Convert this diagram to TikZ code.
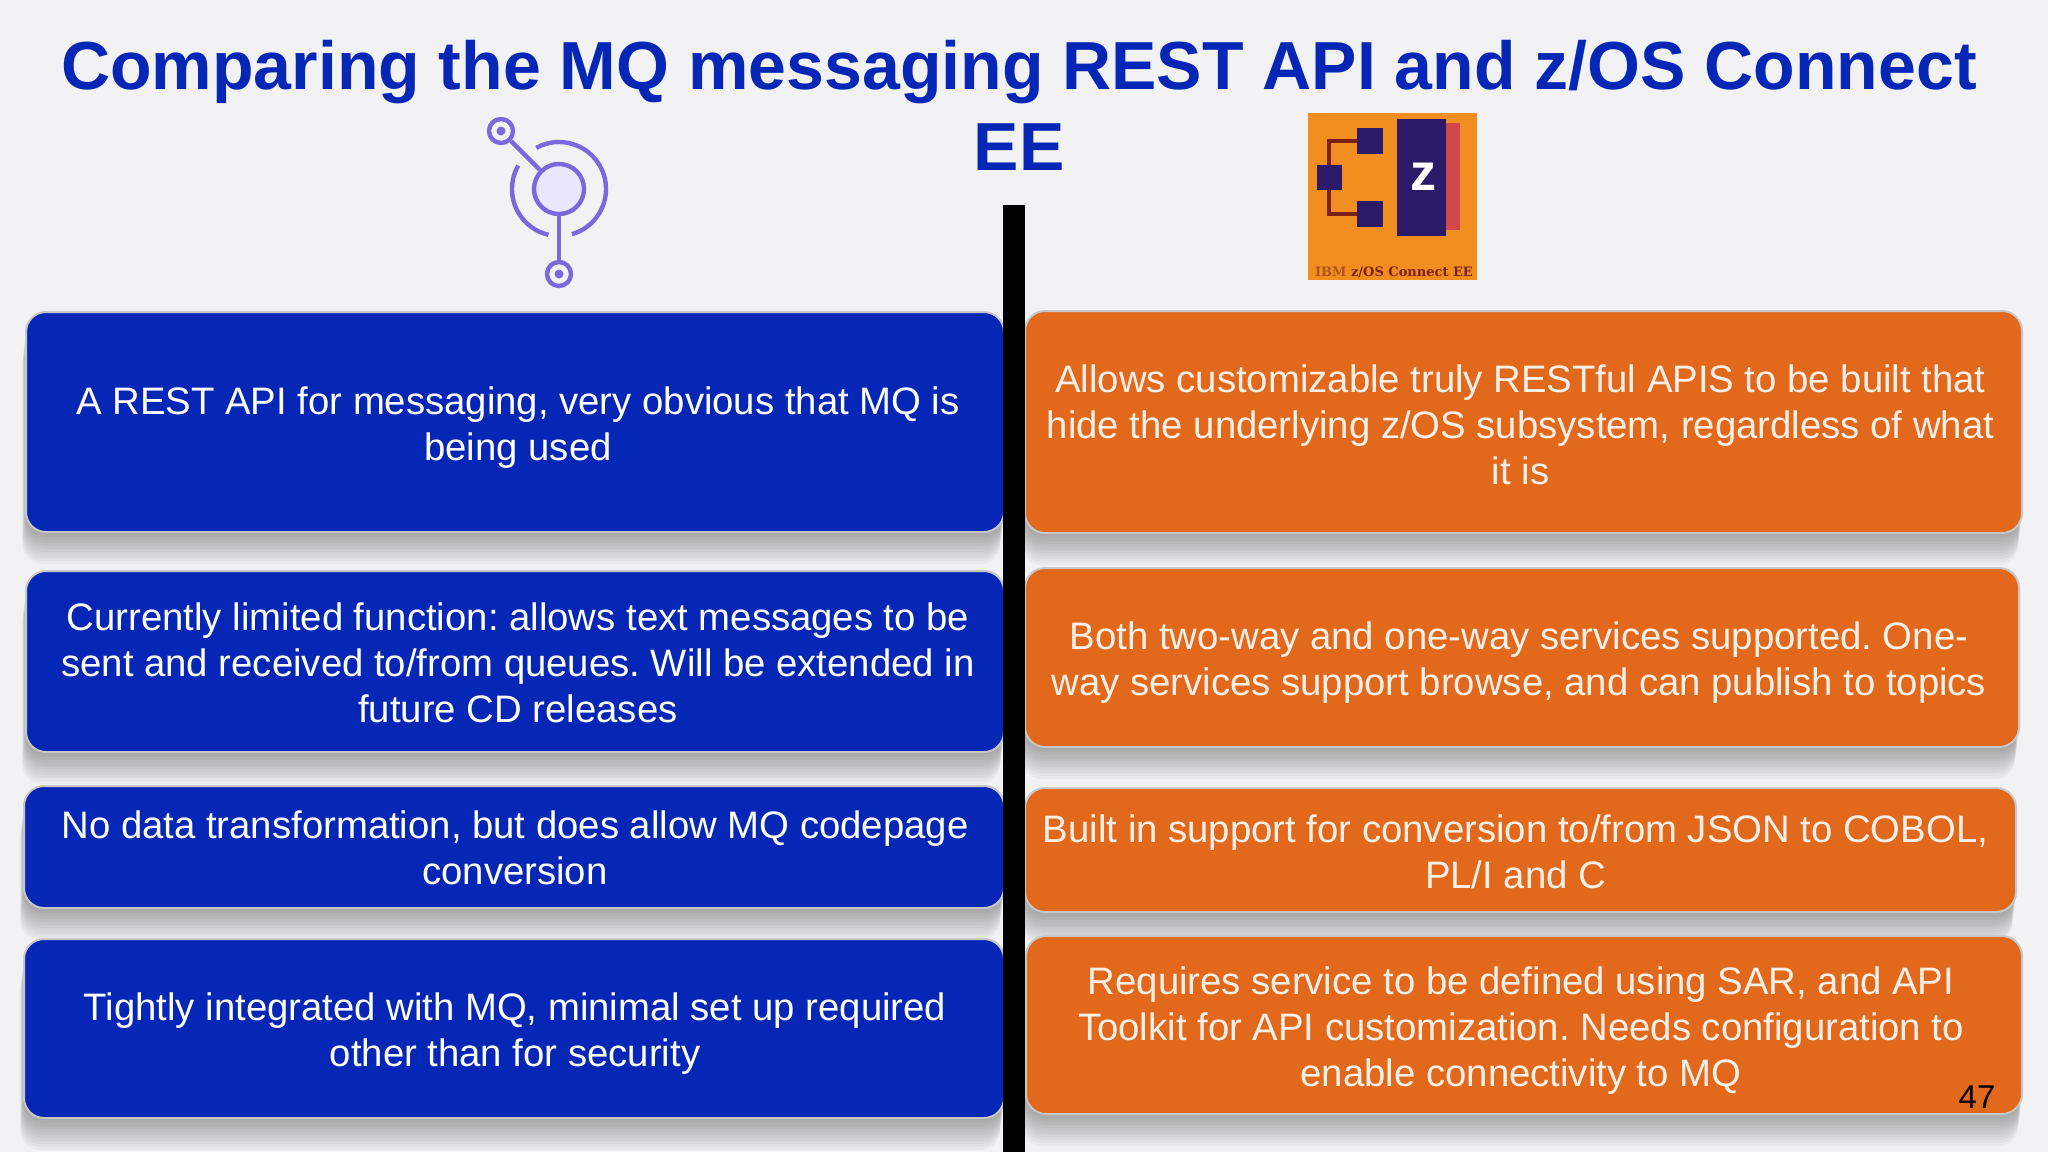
\documentclass[tikz,border=0pt]{standalone}
\usepackage{fontspec}
\setmainfont{Liberation Sans}
\newfontfamily\logofont{DejaVu Serif}
\usetikzlibrary{shadows}
\definecolor{slidebg}{HTML}{F2F2F4}
\definecolor{ibmblue}{HTML}{0627B6}
\definecolor{ibmorange}{HTML}{E2681B}
\definecolor{ringviolet}{HTML}{7B68DC}
\definecolor{ringfill}{HTML}{E9E7FB}
\definecolor{logoorange}{HTML}{F28E1F}
\definecolor{logonavy}{HTML}{2A1A68}
\definecolor{logored}{HTML}{D0484C}
\definecolor{logowire}{HTML}{7A2016}
\tikzset{
    shadowstep/.style={general shadow={fill=black, opacity=.032, shadow yshift=-#1pt, shadow xshift=-#1pt*0.12}},
    softshadow/.style={shadowstep=32, shadowstep=29, shadowstep=26, shadowstep=23, shadowstep=20,
        shadowstep=17, shadowstep=14, shadowstep=11, shadowstep=8, shadowstep=5, shadowstep=2},
    cardbox/.style={draw=white!78!black, line width=2pt, rounded corners=20pt, softshadow, inner sep=0pt},
    bluecard/.style={cardbox, fill=ibmblue},
    orangecard/.style={cardbox, fill=ibmorange},
    cardtext/.style={align=center, inner sep=0pt, font=\fontsize{38.3}{46}\selectfont\frenchspacing},
    bluetext/.style={cardtext, text=white},
    orangetext/.style={cardtext, text=white!90!ibmorange},
    ring/.style={circle, draw=ringviolet, line width=4.4pt, inner sep=0pt},
    ringline/.style={draw=ringviolet, line width=4.4pt},
    logoblock/.style={fill=logonavy, inner sep=0pt}
}
\begin{document}
\begin{tikzpicture}[x=1pt, y=-1pt]
    \useasboundingbox (0,0) rectangle (2048,1152);
    \fill[slidebg] (0,0) rectangle (2048,1152);
    \node[text=ibmblue, align=center, font=\fontsize{68}{81}\selectfont\bfseries] (title) at (1019,105)
        {Comparing the MQ messaging REST API and z/OS Connect\\EE};

    % left icon
    \node[ring, fill=ringfill, minimum size=50pt] (hub) at (559,189) {};
    \node[ring, minimum size=24pt] (topleaf) at (501,131) {};
    \node[ring, minimum size=24pt] (botleaf) at (559,274) {};
    \fill[ringviolet] (topleaf) circle (4.5);
    \fill[ringviolet] (botleaf) circle (4.5);
    \path[ringline] (topleaf) edge (hub) (hub) edge (botleaf);
    \draw[ringline] (559,189) ++(-119:47) arc[start angle=-119, end angle=74, radius=47];
    \draw[ringline] (559,189) ++(-150:47) arc[start angle=-150, end angle=-257, radius=47];

    % right logo
    \node[fill=logoorange, minimum width=169pt, minimum height=167pt, inner sep=0pt] (logo) at (1392.5,196.5) {};
    \node[fill=logored, minimum width=30pt, minimum height=107pt, inner sep=0pt] (logoback) at (1445,176.5) {};
    \node[logoblock, minimum width=49pt, minimum height=117pt] (logoblockz) at (1421.5,177.5) {};
    \node[text=white, inner sep=0pt, font=\fontsize{52}{52}\selectfont\bfseries] (logoz) at (1423,177) {z};
    \node[logoblock, minimum size=25pt] (logoroot) at (1329,177.5) {};
    \node[logoblock, minimum size=26pt] (logoup) at (1370,141) {};
    \node[logoblock, minimum size=26pt] (logodown) at (1370,214) {};
    \draw[logowire, line width=4.4pt] (logoroot) |- (logoup);
    \draw[logowire, line width=4.4pt] (logoroot) |- (logodown);
    \node[text=logowire, font=\logofont\fontsize{13}{14}\selectfont\bfseries, inner sep=0pt] (logotext) at (1394,272) {\textcolor{logowire!55!logoorange}{IBM} z/OS Connect EE};

    % left column
    \node[bluecard, minimum width=978pt, minimum height=220pt] (restone) at (515,422) {};
    \node[bluetext] (restonetext) at ([shift={(3,6)}]restone)
        {A REST API for messaging, very obvious that MQ is\\being used};
    \node[bluecard, minimum width=978pt, minimum height=181pt] (resttwo) at (515,661.5) {};
    \node[bluetext] (resttwotext) at ([shift={(3,1)}]resttwo)
        {Currently limited function: allows text messages to be\\sent and received to/from queues. Will be extended in\\future CD releases};
    \node[bluecard, minimum width=980pt, minimum height=122pt] (restthree) at (514,847) {};
    \node[bluetext] (restthreetext) at ([shift={(1,1)}]restthree)
        {No data transformation, but does allow MQ codepage\\conversion};
    \node[bluecard, minimum width=980pt, minimum height=179pt] (restfour) at (514,1028.5) {};
    \node[bluetext] (restfourtext) at ([shift={(1,5)}]restfour)
        {Tightly integrated with MQ, minimal set up required\\other than for security};

    % right column
    \node[orangecard, minimum width=997pt, minimum height=222pt] (zosone) at (1523.5,422) {};
    \node[orangetext] (zosonetext) at ([shift={(-3,3)}]zosone)
        {Allows customizable truly RESTful APIS to be built that\\hide the underlying z/OS subsystem, regardless of what\\it is};
    \node[orangecard, minimum width=994pt, minimum height=179pt] (zostwo) at (1522,657.5) {};
    \node[orangetext] (zostwotext) at ([shift={(-3,5)}]zostwo)
        {Both two-way and one-way services supported. One-\\way services support browse, and can publish to topics};
    \node[orangecard, minimum width=991pt, minimum height=124pt] (zosthree) at (1520.5,850) {};
    \node[orangetext] (zosthreetext) at ([shift={(-5,2)}]zosthree)
        {Built in support for conversion to/from JSON to COBOL,\\PL/I and C};
    \node[orangecard, minimum width=996pt, minimum height=178pt] (zosfour) at (1524,1025) {};
    \node[orangetext] (zosfourtext) at ([shift={(-3,6)}]zosfour)
        {Requires service to be defined using SAR, and API\\Toolkit for API customization. Needs configuration to\\enable connectivity to MQ};

    % divider
    \fill[black] (1003,205) rectangle (1025,1152);
    \node[text=black, inner sep=0pt, font=\fontsize{33}{33}\selectfont] (pagenum) at (1977,1097) {47};
\end{tikzpicture}
\end{document}
